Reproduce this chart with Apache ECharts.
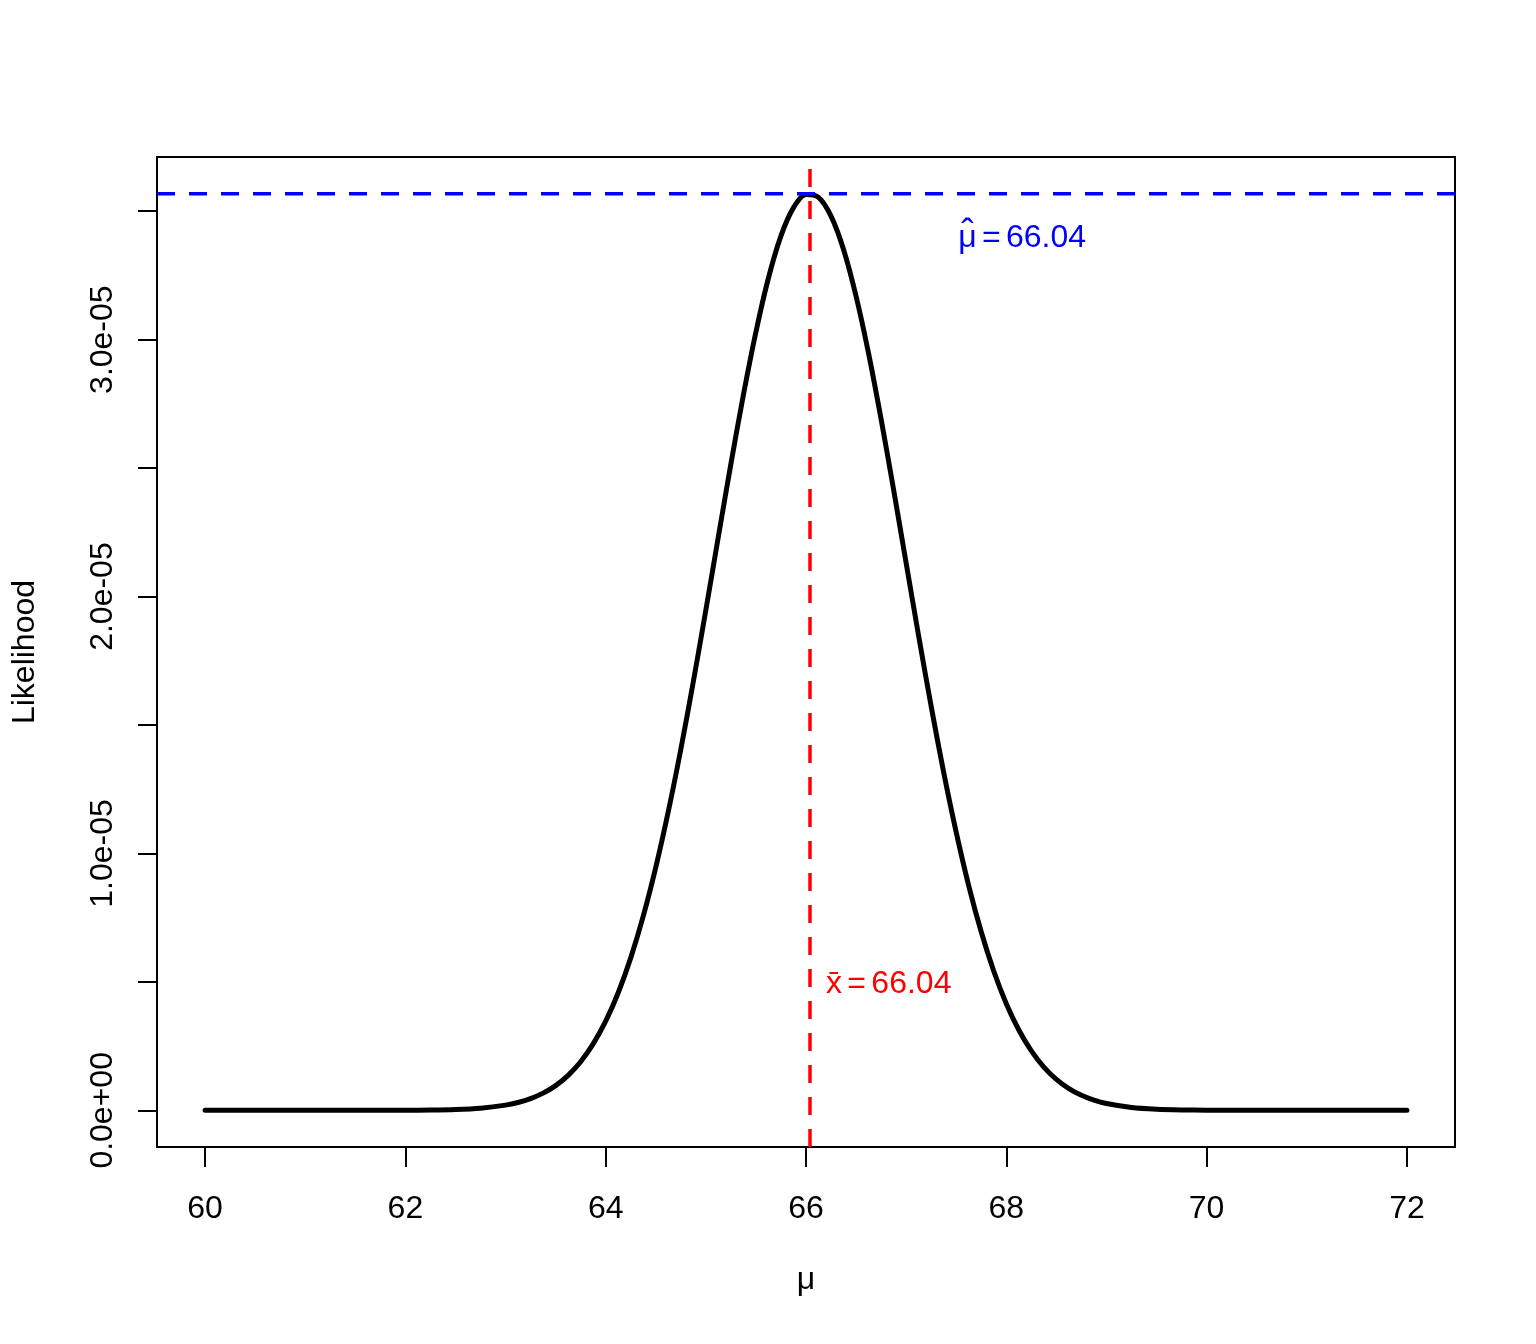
<!DOCTYPE html>
<html>
<head>
<meta charset="utf-8">
<title>Likelihood</title>
<script src="https://cdn.jsdelivr.net/npm/echarts@6/dist/echarts.min.js"></script>
<style>
html, body { margin: 0; padding: 0; background: #fff; }
#chart { width: 1536px; height: 1344px; }
</style>
</head>
<body>
<div id="chart"></div>
<script>
// mu values (x) and likelihood (units of 1e-6)
var muValues = [60, 60.5, 61, 61.5, 62, 62.25, 62.5, 62.75,
    63, 63.125, 63.25, 63.375, 63.5, 63.625, 63.75, 63.875,
    64, 64.125, 64.25, 64.375, 64.5, 64.625, 64.75, 64.875,
    65, 65.125, 65.25, 65.375, 65.5, 65.625, 65.75, 65.875,
    66, 66.125, 66.25, 66.375, 66.5, 66.625, 66.75, 66.875,
    67, 67.125, 67.25, 67.375, 67.5, 67.625, 67.75, 67.875,
    68, 68.125, 68.25, 68.375, 68.5, 68.625, 68.75, 68.875,
    69, 69.25, 69.5, 69.75, 70, 70.5, 71, 71.5, 72];
var likMicro = [0, 0, 0, 0, 0.004, 0.011, 0.032, 0.083,
    0.202, 0.306, 0.457, 0.669, 0.963, 1.362, 1.893, 2.586,
    3.471, 4.579, 5.934, 7.557, 9.457, 11.63, 14.05, 16.69,
    19.47, 22.33, 25.16, 27.85, 30.30, 32.40, 34.04, 35.14,
    35.65, 35.54, 34.81, 33.51, 31.69, 29.46, 26.90, 24.15,
    21.30, 18.46, 15.72, 13.15, 10.82, 8.741, 6.940, 5.415,
    4.152, 3.128, 2.316, 1.685, 1.205, 0.847, 0.584, 0.396,
    0.264, 0.111, 0.044, 0.016, 0.005, 0, 0, 0, 0];

// ticks and labels
var xTicks = [60, 62, 64, 66, 68, 70, 72];
var yTicks = [0, 5e-6, 10e-6, 15e-6, 20e-6, 25e-6, 30e-6, 35e-6];
var yLabels = [0, 10e-6, 20e-6, 30e-6];

// axis limits (R adds 4% each side)
var xMin = 59.52, xMax = 72.48;
var yMin = -1.427e-6, yMax = 37.11e-6;

// reference lines and notes
var xBar = 66.04;
var muHat = 66.04;
var maxLik = 35.68e-6;
var muHatNote = [67.52, 33.95e-6];
var xBarNote = [66.2, 4.92e-6];

var FONT = '"Liberation Sans", Arial, sans-serif';
var FS = 32;
var SP = '\u2006'; // narrow space, like plotmath spacing round "="

function sci(v) {
    if (v === 0) return '0.0e+00';
    var p = v.toExponential(1).split('e');
    var sign = p[1].charAt(0);
    var e = p[1].slice(1);
    if (e.length < 2) e = '0' + e;
    return p[0] + 'e' + sign + e;
}

var curve = [];
for (var i = 0; i < muValues.length; i++) {
    curve.push([muValues[i], likMicro[i] * 1e-6]);
}

var myChart = echarts.init(document.getElementById('chart'));
myChart.setOption({
    backgroundColor: '#fff',
    animation: false,
    grid: {
        left: 157, right: 81, top: 157, bottom: 197,
        show: true, borderColor: '#000', borderWidth: 2, backgroundColor: 'transparent'
    },
    xAxis: {
        type: 'value',
        min: xMin, max: xMax,
        name: 'μ',
        nameLocation: 'middle',
        nameGap: 117,
        nameTextStyle: { fontFamily: FONT, fontSize: FS, color: '#000' },
        axisLine: { show: false, onZero: false },
        splitLine: { show: false },
        axisTick: { show: true, length: 20, customValues: xTicks, lineStyle: { color: '#000', width: 2 } },
        axisLabel: { customValues: xTicks, margin: 46, fontFamily: FONT, fontSize: FS, color: '#000' }
    },
    yAxis: {
        type: 'value',
        min: yMin, max: yMax,
        name: 'Likelihood',
        nameLocation: 'middle',
        nameRotate: 90,
        nameGap: 116,
        nameTextStyle: { fontFamily: FONT, fontSize: FS, color: '#000' },
        axisLine: { show: false, onZero: false },
        splitLine: { show: false },
        axisTick: { show: true, length: 19, customValues: yTicks, lineStyle: { color: '#000', width: 2 } },
        axisLabel: {
            customValues: yLabels, rotate: 90, margin: 38,
            fontFamily: FONT, fontSize: FS, color: '#000',
            formatter: sci
        }
    },
    series: [{
        type: 'line',
        data: curve,
        smooth: 0.3,
        showSymbol: false,
        silent: true,
        z: 2,
        lineStyle: { color: '#000', width: 5, cap: 'round', join: 'round' },
        markPoint: {
            silent: true,
            symbolSize: 0,
            data: [
                {
                    coord: muHatNote,
                    label: { show: true, position: 'right', distance: 0, formatter: 'μ' + SP + '=' + SP + muHat.toFixed(2),
                        color: '#0000ff', fontFamily: FONT, fontSize: FS }
                },
                {
                    coord: muHatNote,
                    label: { show: true, position: 'right', distance: 0, offset: [3, -3], formatter: 'ˆ',
                        color: '#0000ff', fontFamily: FONT, fontSize: FS + 6 }
                },
                {
                    coord: xBarNote,
                    label: { show: true, position: 'right', distance: 0, formatter: 'x̄' + SP + '=' + SP + xBar.toFixed(2),
                        color: '#ff0000', fontFamily: FONT, fontSize: FS }
                }
            ]
        }
    }, {
        // horizontal line at the maximum likelihood
        type: 'line',
        data: [[xMin, maxLik], [xMax, maxLik]],
        showSymbol: false,
        silent: true,
        z: 3,
        lineStyle: { color: '#0000ff', width: 3.5, type: [18, 14] }
    }, {
        // vertical line at the sample mean
        type: 'line',
        data: [[xBar, yMin], [xBar, yMax]],
        showSymbol: false,
        silent: true,
        z: 3,
        lineStyle: { color: '#ff0000', width: 3.5, type: [18, 14] }
    }]
});
</script>
</body>
</html>
